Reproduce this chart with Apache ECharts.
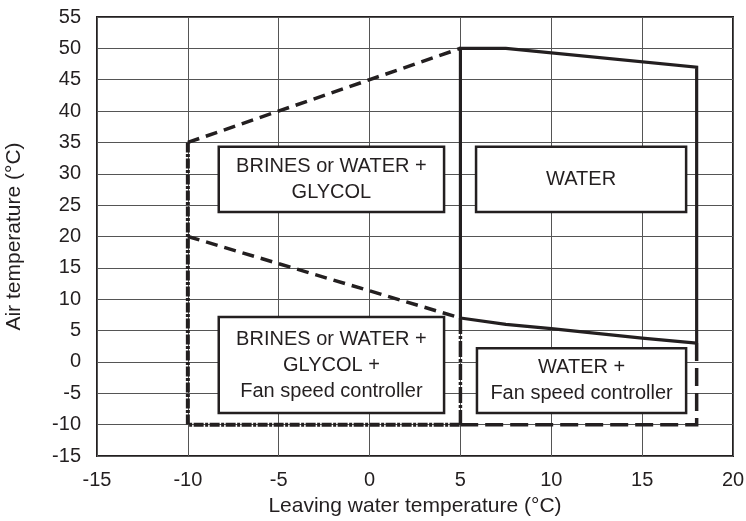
<!DOCTYPE html>
<html>
<head>
<meta charset="utf-8">
<script src="https://cdn.jsdelivr.net/npm/echarts@6/dist/echarts.min.js"></script>
<style>
html, body { margin: 0; padding: 0; background: #fff; }
#chart { width: 746px; height: 521px; }
</style>
</head>
<body>
<div id="chart"></div>
<script>
// envelope outlines (leaving water temp, air temp)
var upperDash = [[-10, 35], [5, 50]];
var lowerDash = [[-10, 20], [5, 7]];
var waterTop = [[5, 7], [5, 50], [7.5, 50], [18, 47], [18, 3]];
var waterLow = [[5, 7], [7.5, 6], [10, 5.3], [15, 3.8], [18, 3]];
var leftEdge = [[-10, 35], [-10, -10], [5, -10]];
var midEdge = [[5, 7], [5, -10]];
var rightEdge = [[18, 3], [18, -10], [5, -10]];

// label boxes: [x1, y1, x2, y2, text]
var boxes = [
    [-8.3, 34.3, 4.1, 23.9, 'BRINES or WATER +\nGLYCOL'],
    [5.86, 34.3, 17.42, 23.9, 'WATER'],
    [-8.3, 7.15, 4.1, -8.16, 'BRINES or WATER +\nGLYCOL +\nFan speed controller'],
    [5.91, 2.2, 17.42, -8.16, 'WATER +\nFan speed controller']
];

var font = 'Liberation Sans';
var ink = '#231f20';

function line(data, type, width) {
    return {
        type: 'line',
        data: data,
        symbol: 'none',
        silent: true,
        z: 5,
        lineStyle: { color: ink, width: width, type: type, cap: 'butt', join: 'miter' }
    };
}

var chart = echarts.init(document.getElementById('chart'));
chart.setOption({
    animation: false,
    textStyle: { fontFamily: font },
    grid: {
        left: 97, right: 13, top: 17, bottom: 65,
        outerBoundsMode: 'none',
        show: true, borderColor: ink, borderWidth: 2
    },
    xAxis: {
        type: 'value',
        min: -15, max: 20, interval: 5,
        name: 'Leaving water temperature (°C)',
        nameLocation: 'middle',
        nameGap: 40,
        nameTextStyle: { color: ink, fontSize: 21, fontFamily: font },
        axisLine: { show: false },
        axisTick: { show: false },
        axisLabel: { color: ink, fontSize: 20, margin: 14, fontFamily: font },
        splitLine: { lineStyle: { color: '#555', width: 1 } }
    },
    yAxis: {
        type: 'value',
        min: -15, max: 55, interval: 5,
        name: 'Air temperature (°C)',
        nameLocation: 'middle',
        nameGap: 72,
        nameTextStyle: { color: ink, fontSize: 21, fontFamily: font },
        axisLine: { show: false },
        axisTick: { show: false },
        axisLabel: { color: ink, fontSize: 20, margin: 16, fontFamily: font },
        splitLine: { lineStyle: { color: '#555', width: 1 } }
    },
    series: [
        line(upperDash, [12, 7], 3.5),
        line(lowerDash, [12, 7], 3.5),
        line(waterTop, 'solid', 3.2),
        line(waterLow, 'solid', 3.2),
        line(leftEdge, [10, 1.5, 3, 1.5], 4),
        line(midEdge, [16, 2, 3, 2], 3.5),
        line(rightEdge, [18, 7], 3.5),
        {
            type: 'line',
            data: [],
            silent: true,
            markArea: {
                silent: true,
                itemStyle: { color: '#fff', borderColor: ink, borderWidth: 2.5 },
                label: {
                    position: 'inside',
                    color: ink,
                    fontSize: 20,
                    lineHeight: 26,
                    fontFamily: font,
                    align: 'center'
                },
                data: boxes.map(function (b) {
                    return [
                        { coord: [b[0], b[1]], name: b[4] },
                        { coord: [b[2], b[3]] }
                    ];
                })
            }
        }
    ]
});
</script>
</body>
</html>
